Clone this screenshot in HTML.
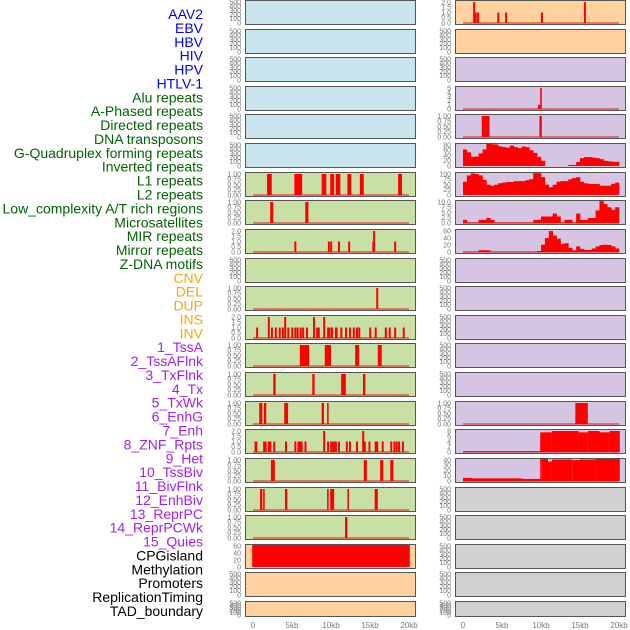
<!DOCTYPE html>
<html><head><meta charset="utf-8"><style>
html,body{margin:0;padding:0;background:#fff;width:630px;height:630px;overflow:hidden}
svg{display:block}
.lab{font-family:"Liberation Sans",sans-serif;font-size:14px}
.tk{font-family:"Liberation Sans",sans-serif;font-size:7px;fill:#777}
.xt{font-family:"Liberation Sans",sans-serif;font-size:8px;fill:#777}
</style></head><body>
<svg id="chart" width="630" height="630" viewBox="0 0 630 630"></svg>
<script>
// ---------- data ----------
const trackLabels=["AAV2","EBV","HBV","HIV","HPV","HTLV-1","Alu repeats","A-Phased repeats","Directed repeats","DNA transposons","G-Quadruplex forming repeats","Inverted repeats","L1 repeats","L2 repeats","Low_complexity A/T rich regions","Microsatellites","MIR repeats","Mirror repeats","Z-DNA motifs","CNV","DEL","DUP","INS","INV","1_TssA","2_TssAFlnk","3_TxFlnk","4_Tx","5_TxWk","6_EnhG","7_Enh","8_ZNF_Rpts","9_Het","10_TssBiv","11_BivFlnk","12_EnhBiv","13_ReprPC","14_ReprPCWk","15_Quies","CPGisland","Methylation","Promoters","ReplicationTiming","TAD_boundary"];
const labelGroups=[0,0,0,0,0,0,1,1,1,1,1,1,1,1,1,1,1,1,1,2,2,2,2,2,3,3,3,3,3,3,3,3,3,3,3,3,3,3,3,4,4,4,4,4];
const xTickValues=[0,5,10,15,20];
const xTickLabels=["0","5kb","10kb","15kb","20kb"];
const T500=["0","100","200","300","400","500"];
const T1=["0.00","0.25","0.50","0.75","1.00"];
const T2=["0.0","0.5","1.0","1.5","2.0"];
const T5=["0","1","2","3","4","5"];
const T60=["0","20","40","60"];
const T80=["0","20","40","60","80"];
const T100=["0","25","50","75","100"];
const T10=["0.0","2.5","5.0","7.5","10.0"];
const T8=["0","2","4","6","8"];
const T40=["0","10","20","30","40"];
const l1Bars=[[1.8,2.4,1],[5.3,6.3,1],[8.8,9.4,1],[9.9,10.4,1],[10.6,11.2,1],[12.1,12.6,1],[13.7,14.2,1],[18.6,19.1,1]];
const l2Bars=[[2.2,2.6,1],[6.7,7.1,1]];
const lowcxBars=[[5.3,1],[9.6,1],[9.9,1],[10.9,1],[12.2,1],[15.3,1],[15.4,2],[18.1,1]];
const microBars=[[15.8,1]];
const mirBars=[[0.4,1],[1.9,2],[2.3,1],[2.8,1],[3.3,1],[3.7,1],[4.0,2],[4.4,1],[4.9,1],[5.3,1],[5.6,1],[6.0,1],[6.3,1],[6.8,1],[7.7,2],[8.1,1],[8.3,1],[9.0,2],[9.5,1],[9.7,1],[10.0,1],[10.5,1],[10.6,1],[11.2,1],[11.8,1],[12.3,1],[12.8,1],[13.2,1],[13.5,1],[14.9,1],[15.6,1],[16.9,1],[17.4,1],[18.1,1],[19.2,1]];
const cnvBars=[[6.0,7.2,1],[9.2,10.0,1],[13.1,13.6,1],[16.0,16.5,1]];
const delBars=[[2.6,2.9,1],[7.6,7.9,1],[11.3,11.9,1],[14.1,14.4,1]];
const dupBars=[[0.8,1.2,1],[1.4,1.7,1],[4.0,4.5,1],[8.8,9.1,1],[9.5,9.7,1]];
const insBars=[[0.2,1],[0.3,1],[1.3,1],[1.5,1],[1.9,1],[2.1,1],[2.6,1],[4.1,1],[5.3,1],[5.7,1],[5.9,1],[6.1,1],[6.6,1],[9.0,2],[9.5,1],[9.9,1],[10.1,1],[10.3,1],[10.5,1],[10.9,1],[11.9,1],[12.3,1],[13.2,1],[14.0,2],[14.2,1],[14.8,1],[15.6,1],[15.8,1],[16.5,1],[17.6,1],[18.0,1],[18.3,1],[18.6,1],[19.1,1]];
const invBars=[[2.3,2.8,1],[14.2,14.6,1],[16.3,16.7,1],[17.6,18.0,1]];
const tssABars=[[0.9,1.2,1],[1.3,1.5,1],[4.1,4.4,1],[9.5,9.7,1],[9.9,10.4,1],[12.1,12.3,1],[15.6,16.0,1]];
const tssFlnkBars=[[11.8,12.1,1]];
const cpgBars=[[-0.1,20.1,65]];
const aav2Bars=[[1.3,2],[1.5,1],[1.8,1],[4.4,1],[5.4,1],[10.0,1],[15.5,2]];
const aluBars=[[9.6,9.9,1],[9.9,10.1,5]];
const aphBars=[[2.4,3.4,1],[9.8,10.1,1]];
const gquadBins=[63,52,35,36,48,63,84,83,82,75,72,70,78,72,68,74,72,60,50,35,20,0,0,0,0,0,0,4,4,15,30,34,34,32,30,26,20,18,16,16];
const invertedBins=[63,93,103,100,93,72,49,44,49,56,59,62,62,66,66,66,71,75,104,104,85,49,37,49,63,66,66,75,81,85,63,56,53,53,53,44,44,44,53,59];
const lowcx2Bins=[1.5,0.2,0.2,0.2,1.5,1.5,2.4,1.5,0.2,0.2,0.2,0.2,0.2,0.2,0.2,0.2,0.2,0.2,1.5,1.5,3.1,3.1,3.1,4.5,3.1,0.2,1.5,1.5,0.2,4.5,1.5,1.5,2.4,2.4,6,10.5,9,7.5,6.3,7.5];
const mir2Bins=[0.5,0.5,0.5,0.5,5,5,5,0.5,0.5,0.5,0.5,0.5,0.5,0.5,0.5,0.5,0.5,0.5,0.5,3,21,40,60,47,38,23,25,12,5,16,9,6,6,10,16,20,21,20,16,10];
const enhBars=[[14.4,16.0,1]];
const znfBars=[[0,9.9,0.3],[9.9,11.4,7.5],[11.4,14.8,8],[14.8,16.0,7.5],[16.0,17.5,8],[17.5,18.8,7.5],[18.8,20.1,8]];
const hetBars=[[0,1.2,6],[1.2,7.6,5],[7.6,12.2,4],[9.9,10.1,44],[10.1,10.9,42],[10.9,11.4,37],[11.4,14.0,41],[14.0,15.0,40],[15.0,17.0,41],[17.0,20.1,43]];

const BLUE="#c9e4ec",GREEN="#c8e0a5",PEACH="#ffd19e",LAV="#d5c5e2",GRAY="#d1d1d1";
const col1=[
 {bg:BLUE,t:T500},{bg:BLUE,t:T500},{bg:BLUE,t:T500},{bg:BLUE,t:T500},{bg:BLUE,t:T500},{bg:BLUE,t:T500},
 {bg:GREEN,t:T1,bars:l1Bars},{bg:GREEN,t:T1,bars:l2Bars},{bg:GREEN,t:T2,thin:lowcxBars},{bg:GREEN,t:T500},
 {bg:GREEN,t:T1,thin:microBars},{bg:GREEN,t:T2,thin:mirBars},{bg:GREEN,t:T1,bars:cnvBars},{bg:GREEN,t:T1,bars:delBars},
 {bg:GREEN,t:T1,bars:dupBars},{bg:GREEN,t:T2,thin:insBars},{bg:GREEN,t:T1,bars:invBars},{bg:GREEN,t:T1,bars:tssABars},
 {bg:GREEN,t:T1,bars:tssFlnkBars},{bg:PEACH,t:T60,bars:cpgBars,nobase:true},{bg:PEACH,t:T500},{bg:PEACH,t:T500}];
const col2=[
 {bg:PEACH,t:T2,thin:aav2Bars},{bg:PEACH,t:T500},{bg:LAV,t:T500},{bg:LAV,t:T5,bars:aluBars},{bg:LAV,t:T1,bars:aphBars},
 {bg:LAV,t:T80,bins:gquadBins,nobase:true},{bg:LAV,t:T100,bins:invertedBins,nobase:true},{bg:LAV,t:T10,bins:lowcx2Bins},{bg:LAV,t:T60,bins:mir2Bins},
 {bg:LAV,t:T500},{bg:LAV,t:T500},{bg:LAV,t:T500},{bg:LAV,t:T500},{bg:LAV,t:T500},
 {bg:LAV,t:T1,bars:enhBars},{bg:LAV,t:T8,bars:znfBars},{bg:LAV,t:T40,bars:hetBars},
 {bg:GRAY,t:T500},{bg:GRAY,t:T500},{bg:GRAY,t:T500},{bg:GRAY,t:T500},{bg:GRAY,t:T500}];

// ---------- drawing ----------
const NS="http://www.w3.org/2000/svg";
const svg=document.getElementById('chart');
function mk(tag,attrs,parent){const e=document.createElementNS(NS,tag);for(const k in attrs)e.setAttribute(k,attrs[k]);(parent||svg).appendChild(e);return e;}
const groupColors=["#0000ff","#006400","#ffa500","#a020f0","#000000"];
const labStep=(611-14)/43;
trackLabels.forEach((s,i)=>{
  const t=mk('text',{x:203,y:14+i*labStep+5,'text-anchor':'end','class':'lab',fill:groupColors[labelGroups[i]]});
  t.textContent=s;
  
  
});
const PX=7.8;
function xScale(col,kb){return (col?463:253)+kb*PX;}
function rowTop(i){return Math.round(i*28.62);}
let clipId=0;
function drawPanel(col,i,p){
  const t=rowTop(i), h=(i===21)?16:25, left=col?455:245, w=171;
  const g=mk('g',{});
  
  
  mk('rect',{x:left,y:t,width:w,height:h,fill:p.bg},g);
  const max=parseFloat(p.t[p.t.length-1]);
  const y0=t+h-2, y1=t+2;
  const ys=v=>y0-(v/max)*(y0-y1);
  const cid='c'+(clipId++);
  const cp=mk('clipPath',{id:cid},g);mk('rect',{x:left,y:t,width:w,height:h},cp);
  const dg=mk('g',{'clip-path':'url(#'+cid+')'},g);
  const hasData=p.bars||p.thin||p.bins;
  if(hasData&&!p.nobase){mk('rect',{x:xScale(col,0),y:y0-1,width:20*PX,height:2,fill:'rgba(230,0,0,0.45)'},dg);}
  if(p.bars)p.bars.forEach(b=>{
    const r=mk('rect',{x:xScale(col,b[0]),y:ys(b[2]),width:Math.max(1,(b[1]-b[0])*PX),height:y0-ys(b[2]),fill:'#ff0000'},dg);
    
    
  });
  if(p.thin)p.thin.forEach(b=>{
    const r=mk('rect',{x:xScale(col,b[0]),y:ys(b[1]),width:2,height:y0-ys(b[1]),fill:'#ff0000'},dg);
    
    
  });
  if(p.bins)p.bins.forEach((v,k)=>{
    const r=mk('rect',{x:xScale(col,k*0.5),y:ys(v),width:0.5*PX+0.3,height:y0-ys(v),fill:'#ff0000'},dg);
    
    
  });
  mk('rect',{x:left+0.5,y:t+0.5,width:w-1,height:h-1,fill:'none',stroke:'#555','stroke-width':1},g);
  p.t.forEach(s=>{
    const tx=mk('text',{x:left-4,y:ys(parseFloat(s))+2.4,'text-anchor':'end','class':'tk'},g);
    tx.textContent=s;
    
    
  });
}
col1.forEach((p,i)=>drawPanel(0,i,p));
col2.forEach((p,i)=>drawPanel(1,i,p));
[0,1].forEach(col=>{
  xTickValues.forEach((v,k)=>{
    const tx=mk('text',{x:xScale(col,v),y:628,'text-anchor':'middle','class':'xt'});
    tx.textContent=xTickLabels[k];
    
    
  });
});
</script>
</body></html>
